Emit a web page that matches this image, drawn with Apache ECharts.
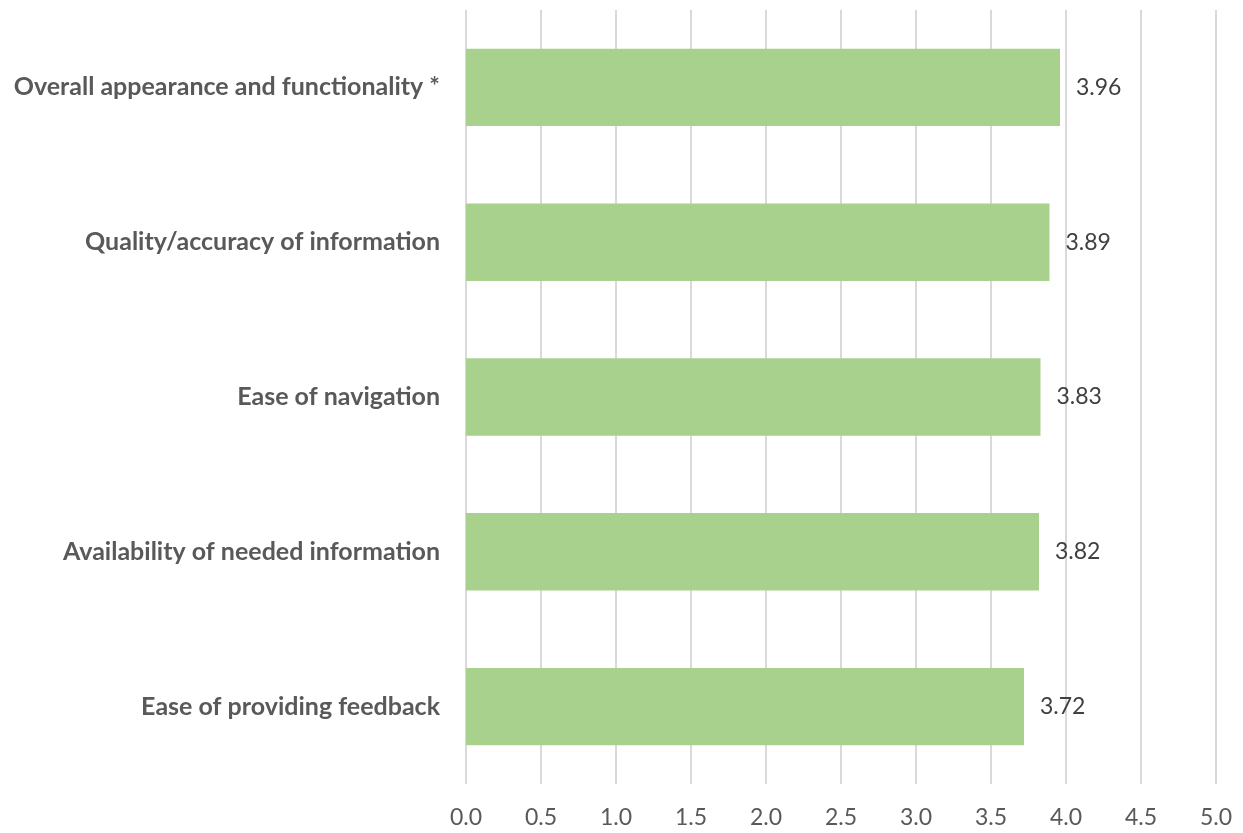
<!DOCTYPE html>
<html>
<head>
<meta charset="utf-8">
<script src="https://cdn.jsdelivr.net/npm/echarts@6/dist/echarts.min.js"></script>
<style>
html,body{margin:0;padding:0;background:#fff;}
#chart{width:1243px;height:833px;}
</style>
</head>
<body>
<div id="chart"></div>
<script>
// Survey ratings, listed bottom-to-top as drawn on the category axis
const categories = [
  'Ease of providing feedback',
  'Availability of needed information',
  'Ease of navigation',
  'Quality/accuracy of information',
  'Overall appearance and functionality *'
];
const scores = [3.72, 3.82, 3.83, 3.89, 3.96];
const xTicks = [0, 0.5, 1, 1.5, 2, 2.5, 3, 3.5, 4, 4.5, 5];

const chart = echarts.init(document.getElementById('chart'));
chart.setOption({
  animation: false,
  grid: { left: 466, right: 27, top: 10, bottom: 49, containLabel: false },
  xAxis: {
    type: 'value',
    min: xTicks[0],
    max: xTicks[xTicks.length - 1],
    interval: 0.5,
    axisLine: { show: false },
    axisTick: { show: false },
    splitLine: { show: true, lineStyle: { color: '#d9d9d9', width: 2 } },
    axisLabel: {
      formatter: v => v.toFixed(1),
      color: '#595959',
      fontFamily: 'Lato, sans-serif',
      fontSize: 23,
      margin: 22
    }
  },
  yAxis: {
    type: 'category',
    data: categories,
    axisLine: { show: false },
    axisTick: { show: false },
    axisLabel: {
      color: '#595959',
      fontFamily: 'Lato, sans-serif',
      fontWeight: 'bold',
      fontSize: 25,
      margin: 26
    }
  },
  series: [{
    type: 'bar',
    data: scores,
    barWidth: '50%',
    itemStyle: { color: '#a9d18e' },
    label: {
      show: true,
      position: 'right',
      distance: 16,
      formatter: p => p.value.toFixed(2),
      color: '#404040',
      fontFamily: 'Lato, sans-serif',
      fontSize: 23
    }
  }]
});
</script>
</body>
</html>
